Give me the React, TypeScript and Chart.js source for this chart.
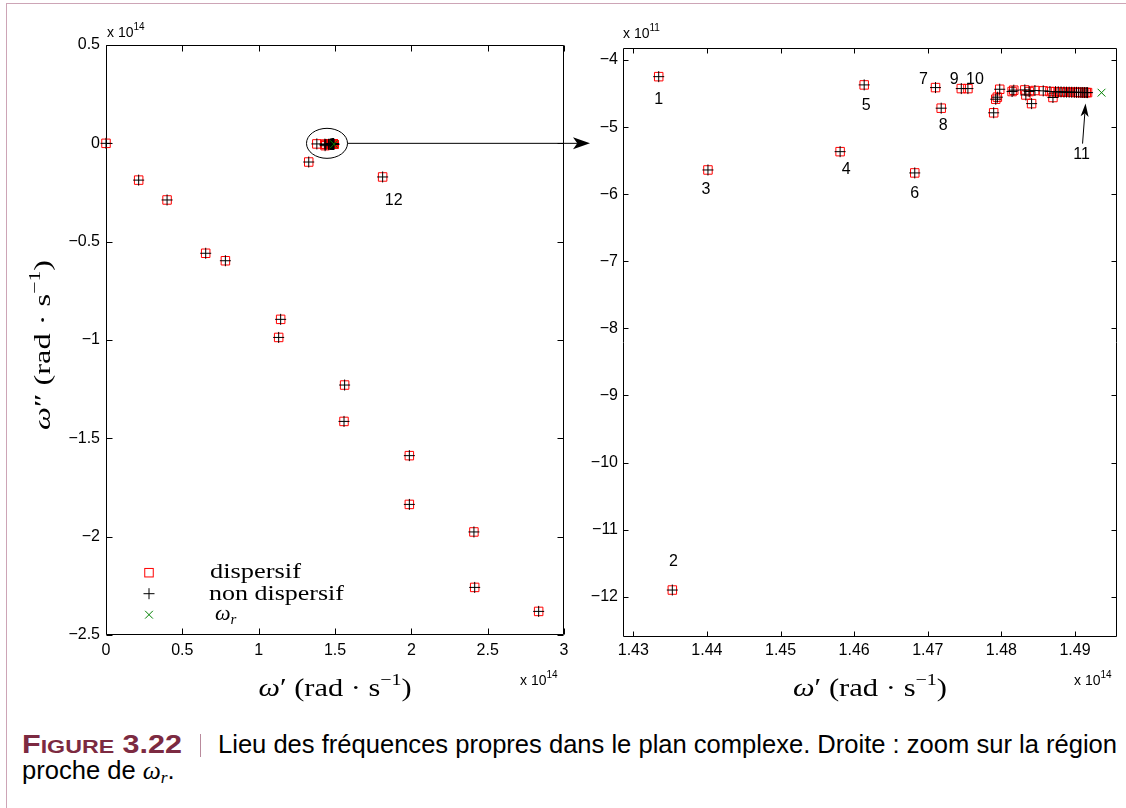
import React, { useEffect, useLayoutEffect, useRef } from 'react';
import { Chart, registerables } from 'chart.js';

Chart.register(...registerables);

// ---------------- DATA ----------------
// Overview panel: eigenfrequencies, ω′ and ω″ in units of 1e14 rad/s
const overviewReal = [0, 0.214, 0.4, 0.653, 0.782, 1.144, 1.131, 1.563, 1.559, 1.987, 1.987, 2.41, 2.415, 2.834, 1.328, 1.812, 1.381];
const overviewImag = [0, -0.187, -0.288, -0.559, -0.597, -0.895, -0.987, -1.229, -1.414, -1.588, -1.836, -1.976, -2.258, -2.38, -0.095, -0.171, -0.003];

// Zoom panel: ω′ in units of 1e14 rad/s, ω″ in units of 1e11 rad/s
const zoomReal = [
  1.43345, 1.4353, 1.44014, 1.45809, 1.46136, 1.46823, 1.47105, 1.47182, 1.47455, 1.47545,
  1.47895, 1.47923, 1.47945, 1.47977, 1.48145, 1.48168, 1.48318, 1.48332, 1.48377, 1.4841,
  1.48455, 1.48568, 1.48659, 1.487, 1.48735, 1.48772, 1.4881, 1.4885, 1.48885, 1.4892,
  1.48955, 1.4899, 1.4902, 1.4905, 1.4908, 1.49105, 1.4913, 1.49152, 1.4917,
];
const zoomImag = [
  -4.248, -11.9, -5.639, -5.366, -4.371, -5.683, -4.411, -4.718, -4.426, -4.426,
  -4.787, -4.584, -4.554, -4.436, -4.47, -4.45, -4.446, -4.521, -4.47, -4.65,
  -4.455, -4.46, -4.47, -4.559, -4.472, -4.475, -4.476, -4.478, -4.479, -4.48,
  -4.481, -4.482, -4.482, -4.483, -4.484, -4.484, -4.485, -4.485, -4.486,
];

// Resonance frequency ω_r (ω′ in 1e14, ω″ in 1e11)
const resonanceReal = [1.4936];
const resonanceImag = [-4.487];

// Series names
const seriesNames = ['dispersif', 'non dispersif'];

// Tick values and labels
const leftXTicks = [0, 0.5, 1, 1.5, 2, 2.5, 3];
const leftXTickLabels = ['0', '0.5', '1', '1.5', '2', '2.5', '3'];
const leftYTicks = [-2.5, -2, -1.5, -1, -0.5, 0, 0.5];
const leftYTickLabels = ['\u22122.5', '\u22122', '\u22121.5', '\u22121', '\u22120.5', '0', '0.5'];
const rightXTicks = [1.43, 1.44, 1.45, 1.46, 1.47, 1.48, 1.49];
const rightXTickLabels = ['1.43', '1.44', '1.45', '1.46', '1.47', '1.48', '1.49'];
const rightYTicks = [-12, -11, -10, -9, -8, -7, -6, -5, -4];
const rightYTickLabels = ['\u221212', '\u221211', '\u221210', '\u22129', '\u22128', '\u22127', '\u22126', '\u22125', '\u22124'];

// Mode numbers (zoom panel: modes 1..10 are the first ten zoom points; mode 11 the last one)
const zoomModeNumbers = ['1', '2', '3', '4', '5', '6', '7', '8', '9', '10'];
const lastModeNumber = '11';
const overviewModeNumber = '12';
const overviewModeIndex = 15;

// ---------------- STYLE / LAYOUT ----------------
const SANS = '"Liberation Sans", Arial, Helvetica, sans-serif';
const SERIF = '"Liberation Serif", "DejaVu Serif", "Times New Roman", serif';
const NARROW = '"Liberation Sans Narrow", "Liberation Sans", Arial, sans-serif';
const RED = '#ff0000';
const GREEN = '#008000';
const MAROON = '#7c2a41';
const TICK_FONT = 16;

const zoomLabelOffsets: [number, number][] = [
  [0, 23], [1, -28], [-2, 20], [6, 18], [2, 21], [0, 21], [-12, -8], [2, 17], [-7, -9], [7, -9],
];

Chart.defaults.font.family = SANS;

type Part = { t: string; size: number; italic?: boolean; dy?: number; family?: string };

function fontOf(p: Part) {
  return `${p.italic ? 'italic ' : ''}${p.size}px ${p.family || SERIF}`;
}

function drawRich(
  ctx: CanvasRenderingContext2D,
  parts: Part[],
  x: number,
  y: number,
  opts: { align?: 'left' | 'center'; width?: number; rotate?: boolean } = {}
) {
  let natural = 0;
  for (const p of parts) {
    ctx.font = fontOf(p);
    natural += ctx.measureText(p.t).width;
  }
  const sx = opts.width ? opts.width / natural : 1;
  ctx.save();
  ctx.translate(x, y);
  if (opts.rotate) ctx.rotate(-Math.PI / 2);
  ctx.scale(sx, 1);
  ctx.textAlign = 'left';
  ctx.textBaseline = 'alphabetic';
  ctx.fillStyle = '#000';
  let cx = opts.align === 'center' ? -natural / 2 : 0;
  for (const p of parts) {
    ctx.font = fontOf(p);
    ctx.fillText(p.t, cx, p.dy || 0);
    cx += ctx.measureText(p.t).width;
  }
  ctx.restore();
}

function drawFrame(chart: any, tickLen: number) {
  const { ctx, chartArea: a, scales } = chart;
  const L = Math.round(a.left) + 0.5;
  const R = Math.round(a.right) - 0.5;
  const T = Math.round(a.top) + 0.5;
  const B = Math.round(a.bottom) - 0.5;
  ctx.save();
  ctx.strokeStyle = '#000';
  ctx.lineWidth = 1;
  ctx.beginPath();
  ctx.rect(L, T, R - L, B - T);
  for (const t of scales.x.ticks) {
    const p = Math.round(scales.x.getPixelForValue(t.value)) + 0.5;
    ctx.moveTo(p, B);
    ctx.lineTo(p, B - tickLen);
    ctx.moveTo(p, T);
    ctx.lineTo(p, T + tickLen);
  }
  for (const t of scales.y.ticks) {
    const p = Math.round(scales.y.getPixelForValue(t.value)) + 0.5;
    ctx.moveTo(L, p);
    ctx.lineTo(L + tickLen, p);
    ctx.moveTo(R, p);
    ctx.lineTo(R - tickLen, p);
  }
  ctx.stroke();
  ctx.restore();
}

function exponentLabel(ctx: CanvasRenderingContext2D, x: number, y: number, exp: string) {
  drawRich(ctx, [
    { t: 'x 10', size: 14, family: SANS },
    { t: exp, size: 10, family: SANS, dy: -7 },
  ], x, y);
}

function axisTitle(ctx: CanvasRenderingContext2D, x: number, y: number, primes: string, width: number, size: number, rotate = false) {
  drawRich(ctx, [
    { t: '\u03c9', size, italic: true },
    { t: primes, size },
    { t: ' (rad \u00b7 s', size },
    { t: '\u22121', size: Math.round(size * 0.66), dy: -Math.round(size * 0.42) },
    { t: ')', size },
  ], x, y, { align: 'center', width, rotate });
}

function arrowHead(ctx: CanvasRenderingContext2D, x0: number, y0: number, x1: number, y1: number, len: number, half: number) {
  const ang = Math.atan2(y1 - y0, x1 - x0);
  const ux = Math.cos(ang), uy = Math.sin(ang);
  const bx = x1 - ux * len, by = y1 - uy * len;
  const nx = -uy, ny = ux;
  const notchX = x1 - ux * len * 0.75, notchY = y1 - uy * len * 0.75;
  ctx.beginPath();
  ctx.moveTo(x0, y0);
  ctx.lineTo(notchX, notchY);
  ctx.stroke();
  ctx.beginPath();
  ctx.moveTo(x1, y1);
  ctx.lineTo(bx + nx * half, by + ny * half);
  ctx.lineTo(notchX, notchY);
  ctx.lineTo(bx - nx * half, by - ny * half);
  ctx.closePath();
  ctx.fill();
}

function labelFor(ticks: number[], labels: string[], v: number) {
  const i = ticks.findIndex((t) => Math.abs(t - v) < 1e-9);
  return i >= 0 ? labels[i] : '';
}

function pts(xs: number[], ys: number[], yFactor = 1) {
  return xs.map((x, i) => ({ x, y: ys[i] * yFactor }));
}

function makeDatasets(xs: number[], ys: number[], rx: number[], ry: number[]) {
  const common = { showLine: false, clip: false as any, pointHoverRadius: 0 };
  return [
    {
      ...common,
      label: '\u03c9r',
      data: pts(rx, ry),
      pointStyle: 'crossRot',
      pointRadius: 5.5,
      borderColor: GREEN,
      backgroundColor: 'transparent',
      borderWidth: 1,
    },
    {
      ...common,
      label: seriesNames[1],
      data: pts(xs, ys),
      pointStyle: 'cross',
      pointRadius: 5.5,
      borderColor: '#000',
      backgroundColor: 'transparent',
      borderWidth: 1,
    },
    {
      ...common,
      label: seriesNames[0],
      data: pts(xs, ys),
      pointStyle: 'rect',
      pointRadius: 6,
      borderColor: RED,
      backgroundColor: 'transparent',
      borderWidth: 1,
    },
  ];
}

function makeScales(o: any) {
  return {
    x: {
      type: 'linear',
      bounds: 'data',
      min: o.xMin,
      max: o.xMax,
      grid: { display: false, drawTicks: false },
      border: { display: false },
      afterBuildTicks: (s: any) => { s.ticks = o.xTicks.map((v: number) => ({ value: v })); },
      afterFit: (s: any) => { s.height = o.xAxisHeight; },
      ticks: {
        autoSkip: false,
        maxRotation: 0,
        minRotation: 0,
        padding: o.xPad,
        color: '#000',
        font: { family: SANS, size: TICK_FONT },
        callback: (v: number) => labelFor(o.xTicks, o.xLabels, v),
      },
    },
    y: {
      type: 'linear',
      bounds: 'data',
      min: o.yMin,
      max: o.yMax,
      grid: { display: false, drawTicks: false },
      border: { display: false },
      afterBuildTicks: (s: any) => { s.ticks = o.yTicks.map((v: number) => ({ value: v })); },
      afterFit: (s: any) => { s.width = o.yAxisWidth; },
      ticks: {
        autoSkip: false,
        padding: o.yPad,
        color: '#000',
        font: { family: SANS, size: TICK_FONT },
        callback: (v: number) => labelFor(o.yTicks, o.yLabels, v),
      },
    },
  };
}

// ---------------- LEFT PANEL ----------------
function leftConfig(): any {
  const xs = [...overviewReal, ...zoomReal];
  const ys = [...overviewImag, ...zoomImag.map((v) => v / 1000)];
  const ry = resonanceImag.map((v) => v / 1000);
  const overlay = {
    id: 'leftOverlay',
    beforeDatasetsDraw(chart: any) {
      drawFrame(chart, 6);
    },
    afterDraw(chart: any) {
      const { ctx, chartArea: a, scales } = chart;
      const sx = scales.x, sy = scales.y;
      ctx.save();
      // mode number 12
      const px = sx.getPixelForValue(overviewReal[overviewModeIndex]);
      const py = sy.getPixelForValue(overviewImag[overviewModeIndex]);
      ctx.fillStyle = '#000';
      ctx.font = `16px ${SANS}`;
      ctx.textAlign = 'center';
      ctx.textBaseline = 'middle';
      ctx.fillText(overviewModeNumber, px + 11, py + 24);

      // ellipse around the cluster and arrow toward zoom panel
      const ex = sx.getPixelForValue(1.4476);
      const ey = sy.getPixelForValue(0);
      ctx.strokeStyle = '#000';
      ctx.lineWidth = 1;
      ctx.beginPath();
      ctx.ellipse(ex, ey, 20.5, 15, 0, 0, Math.PI * 2);
      ctx.stroke();
      ctx.fillStyle = '#000';
      arrowHead(ctx, ex + 20.5, ey, 590, ey, 17, 6);

      // legend
      const lx = a.left + 43;
      const rows = [a.bottom - 62.3, a.bottom - 41.3, a.bottom - 20.3];
      ctx.lineWidth = 1;
      ctx.strokeStyle = RED;
      ctx.strokeRect(lx - 4.25, rows[0] - 4.25, 8.5, 8.5);
      ctx.strokeStyle = '#000';
      ctx.beginPath();
      ctx.moveTo(lx - 5.5, rows[1]); ctx.lineTo(lx + 5.5, rows[1]);
      ctx.moveTo(lx, rows[1] - 5.5); ctx.lineTo(lx, rows[1] + 5.5);
      ctx.stroke();
      ctx.strokeStyle = GREEN;
      ctx.beginPath();
      ctx.moveTo(lx - 3.9, rows[2] - 3.9); ctx.lineTo(lx + 3.9, rows[2] + 3.9);
      ctx.moveTo(lx - 3.9, rows[2] + 3.9); ctx.lineTo(lx + 3.9, rows[2] - 3.9);
      ctx.stroke();
      const tx = a.left + 104;
      drawRich(ctx, [{ t: seriesNames[0], size: 21 }], tx, rows[0] + 5, { width: 91 });
      drawRich(ctx, [{ t: seriesNames[1], size: 21 }], tx - 1, rows[1] + 6, { width: 135 });
      drawRich(ctx, [
        { t: '\u03c9', size: 22, italic: true },
        { t: 'r', size: 15, italic: true, dy: 4 },
      ], tx + 5, rows[2] + 5);

      // axis titles
      axisTitle(ctx, 335, 696, '\u2032', 153, 26);
      axisTitle(ctx, 50, 345, '\u2033', 170, 24, true);

      // exponent labels
      exponentLabel(ctx, 107, 37, '14');
      exponentLabel(ctx, 520, 685, '14');
      ctx.restore();
    },
  };
  return {
    type: 'scatter',
    data: { datasets: makeDatasets(xs, ys, resonanceReal, ry) },
    options: {
      responsive: false,
      animation: false,
      events: [],
      layout: { padding: { top: 45, right: 36, left: 0, bottom: 0 } },
      plugins: { legend: { display: false }, tooltip: { enabled: false }, title: { display: false } },
      scales: makeScales({
        xMin: 0, xMax: 3, xTicks: leftXTicks, xLabels: leftXTickLabels, xAxisHeight: 85, xPad: 6,
        yMin: -2.5, yMax: 0.5, yTicks: leftYTicks, yLabels: leftYTickLabels, yAxisWidth: 106, yPad: 6,
      }),
    },
    plugins: [overlay],
  };
}

// ---------------- RIGHT PANEL ----------------
const RIGHT_LEFT = 570;

function rightConfig(): any {
  const overlay = {
    id: 'rightOverlay',
    beforeDatasetsDraw(chart: any) {
      drawFrame(chart, 5);
    },
    afterDraw(chart: any) {
      const { ctx, scales } = chart;
      const sx = scales.x, sy = scales.y;
      ctx.save();
      ctx.fillStyle = '#000';
      ctx.font = `16px ${SANS}`;
      ctx.textAlign = 'center';
      ctx.textBaseline = 'middle';
      zoomModeNumbers.forEach((txt, i) => {
        const px = sx.getPixelForValue(zoomReal[i]);
        const py = sy.getPixelForValue(zoomImag[i]);
        const [dx, dy] = zoomLabelOffsets[i];
        ctx.fillText(txt, px + dx, py + dy);
      });
      // mode 11 with arrow
      const li = zoomReal.length - 1;
      const lpx = sx.getPixelForValue(zoomReal[li]);
      const lpy = sy.getPixelForValue(zoomImag[li]);
      ctx.fillText(lastModeNumber, lpx - 6, lpy + 62);
      ctx.strokeStyle = '#000';
      ctx.lineWidth = 1;
      arrowHead(ctx, lpx - 5, lpy + 51, lpx - 2, lpy + 11, 13, 4);

      axisTitle(ctx, 870 - RIGHT_LEFT, 696, '\u2032', 154, 26);
      exponentLabel(ctx, 623 - RIGHT_LEFT, 38, '11');
      exponentLabel(ctx, 1074 - RIGHT_LEFT, 685, '14');
      ctx.restore();
    },
  };
  return {
    type: 'scatter',
    data: { datasets: makeDatasets(zoomReal, zoomImag, resonanceReal, resonanceImag) },
    options: {
      responsive: false,
      animation: false,
      events: [],
      layout: { padding: { top: 48, right: 9, left: 0, bottom: 0 } },
      plugins: { legend: { display: false }, tooltip: { enabled: false }, title: { display: false } },
      scales: makeScales({
        xMin: 1.4286, xMax: 1.4957, xTicks: rightXTicks, xLabels: rightXTickLabels, xAxisHeight: 83, xPad: 4,
        yMin: -12.6, yMax: -3.821, yTicks: rightYTicks, yLabels: rightYTickLabels, yAxisWidth: 53, yPad: 5,
      }),
    },
    plugins: [overlay],
  };
}

function ChartCanvas({ make, left, width, height }: { make: () => any; left: number; width: number; height: number }) {
  const ref = useRef<HTMLCanvasElement | null>(null);
  useEffect(() => {
    if (!ref.current) return;
    const chart = new Chart(ref.current, make());
    return () => chart.destroy();
  }, []);
  return (
    <canvas
      ref={ref}
      width={width}
      height={height}
      style={{ position: 'absolute', left, top: 0, width, height }}
    />
  );
}

export default function App() {
  const labelRef = useRef<HTMLDivElement | null>(null);
  const line1 = useRef<HTMLDivElement | null>(null);
  const line2 = useRef<HTMLDivElement | null>(null);

  useLayoutEffect(() => {
    if (!labelRef.current || !line1.current || !line2.current) return;
    const sl = 160 / labelRef.current.getBoundingClientRect().width;
    labelRef.current.style.transform = `scaleX(${sl})`;
    const s = 899 / line1.current.getBoundingClientRect().width;
    line1.current.style.transform = `scaleX(${s})`;
    line2.current.style.transform = `scaleX(${s})`;
  }, []);

  const captionStyle: React.CSSProperties = {
    position: 'absolute',
    whiteSpace: 'nowrap',
    fontFamily: NARROW,
    fontSize: 25,
    lineHeight: '25px',
    color: '#000',
    transformOrigin: '0 0',
  };

  return (
    <div style={{ position: 'absolute', left: 0, top: 0, width: 1126, height: 808, background: '#fff', overflow: 'hidden' }}>
      <div
        style={{
          position: 'absolute',
          left: 6,
          top: 3,
          width: 1120,
          height: 805,
          borderTop: '1px solid #cda5b6',
          borderLeft: '1px solid #cda5b6',
        }}
      />
      <ChartCanvas make={leftConfig} left={0} width={600} height={720} />
      <ChartCanvas make={rightConfig} left={RIGHT_LEFT} width={556} height={720} />
      <div ref={labelRef} style={{ ...captionStyle, left: 22, top: 732, color: MAROON, fontWeight: 'bold' }}>
        F<span style={{ fontSize: 19 }}>IGURE</span> 3.22
      </div>
      <div
        style={{
          position: 'absolute',
          left: 200,
          top: 734,
          width: 0,
          height: 23,
          borderLeft: '1.5px solid #b98a9c',
        }}
      />
      <div ref={line1} style={{ ...captionStyle, left: 218, top: 732 }}>
        Lieu des fréquences propres dans le plan complexe. Droite : zoom sur la région
      </div>
      <div ref={line2} style={{ ...captionStyle, left: 22, top: 758 }}>
        proche de{' '}
        <span style={{ fontFamily: SERIF, fontStyle: 'italic' }}>ω</span>
        <span style={{ fontFamily: SERIF, fontStyle: 'italic', fontSize: 17, position: 'relative', top: 4 }}>r</span>.
      </div>
    </div>
  );
}
